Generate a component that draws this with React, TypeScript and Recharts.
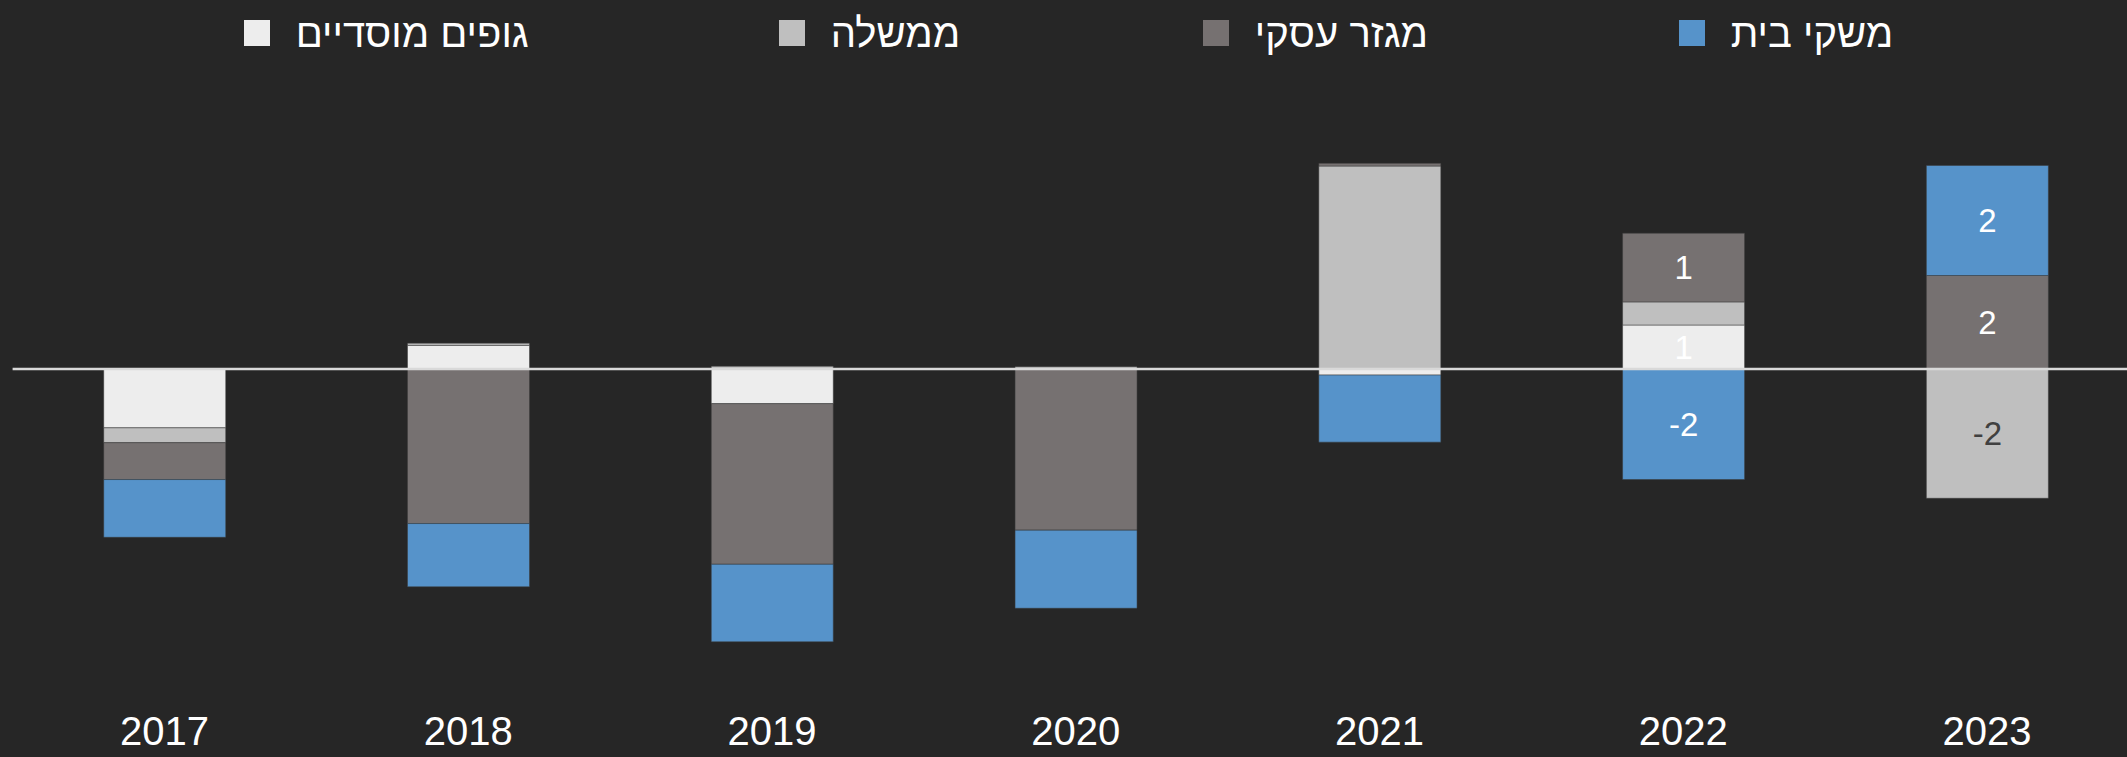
import React from 'react';
import { BarChart, Bar, XAxis, YAxis, ReferenceLine, LabelList } from 'recharts';

const years = ['2017', '2018', '2019', '2020', '2021', '2022', '2023'];
const institutional = [-1.07, 0.43, -0.63, 0, -0.11, 0.8, 0];
const government = [-0.27, 0.04, 0.05, 0.04, 3.69, 0.42, -2.35];
const business = [-0.67, -2.81, -2.92, -2.93, 0.05, 1.25, 1.7];
const households = [-1.05, -1.15, -1.41, -1.42, -1.22, -2.01, 2.0];
const labeledYears = ['2022', '2023'];

const series = [
  { key: 'institutional', name: 'גופים מוסדיים', color: '#EDEDED', labelColor: '#FFFFFF', values: institutional, textWidth: 247 },
  { key: 'government', name: 'ממשלה', color: '#BFBFBF', labelColor: '#404040', values: government, textWidth: 136 },
  { key: 'business', name: 'מגזר עסקי', color: '#767171', labelColor: '#FFFFFF', values: business, textWidth: 188 },
  { key: 'households', name: 'משקי בית', color: '#5693CA', labelColor: '#FFFFFF', values: households, textWidth: 177 },
];

const data = years.map((year, i) => {
  const row: Record<string, any> = { year };
  series.forEach((s) => {
    row[s.key] = s.values[i];
    const r = Math.round(s.values[i]);
    row[s.key + 'Label'] = labeledYears.includes(year) && r !== 0 ? r : null;
  });
  return row;
});

const FONT = '"Liberation Sans", Arial, sans-serif';

const makeLabel = (color: string) => (props: any) => {
  const { x, y, width, height, value } = props;
  if (value === null || value === undefined) return null;
  return (
    <text
      x={Number(x) + Number(width) / 2}
      y={Number(y) + Number(height) / 2}
      fill={color}
      fontSize={33}
      fontFamily={FONT}
      textAnchor="middle"
      dominantBaseline="central"
    >
      {value}
    </text>
  );
};

export default function App() {
  return (
    <div
      style={{
        position: 'absolute',
        left: 0,
        top: 0,
        width: 2127,
        height: 757,
        background: '#262626',
        overflow: 'hidden',
      }}
    >
      <div
        style={{
          position: 'absolute',
          left: 12.6,
          top: 0,
          width: 2126.4,
          height: 66,
          display: 'flex',
          justifyContent: 'center',
          alignItems: 'center',
          gap: 236,
          fontFamily: FONT,
          fontSize: 40,
          color: '#FFFFFF',
        }}
      >
        {series.map((s) => (
          <div key={s.key} style={{ display: 'flex', alignItems: 'center', gap: 26 }}>
            <div style={{ width: 26, height: 26, background: s.color }} />
            <span
              style={{
                width: s.textWidth,
                direction: 'rtl',
                textAlign: 'left',
                whiteSpace: 'nowrap',
                lineHeight: '42px',
              }}
            >
              {s.name}
            </span>
          </div>
        ))}
      </div>
      <BarChart
        width={2127}
        height={757}
        data={data}
        stackOffset="sign"
        barCategoryGap="30%"
        margin={{ top: 66.5, right: -12, left: 12.6, bottom: 0 }}
        style={{ position: 'absolute', left: 0, top: 0 }}
      >
        <XAxis
          dataKey="year"
          axisLine={false}
          tickLine={false}
          tickSize={0}
          tickMargin={18}
          height={58}
          interval={0}
          tick={{ fill: '#FFFFFF', fontSize: 40, fontFamily: FONT }}
        />
        <YAxis hide type="number" domain={[-6, 5.5]} allowDataOverflow />
        {series.map((s) => (
          <Bar
            key={s.key}
            dataKey={s.key}
            name={s.name}
            stackId="a"
            fill={s.color}
            stroke="#3a3a3a"
            strokeOpacity={0.5}
            strokeWidth={1}
            isAnimationActive={false}
          >
            <LabelList dataKey={s.key + 'Label'} content={makeLabel(s.labelColor)} />
          </Bar>
        ))}
        <ReferenceLine y={0} stroke="#D9D9D9" strokeWidth={2.5} />
      </BarChart>
    </div>
  );
}
